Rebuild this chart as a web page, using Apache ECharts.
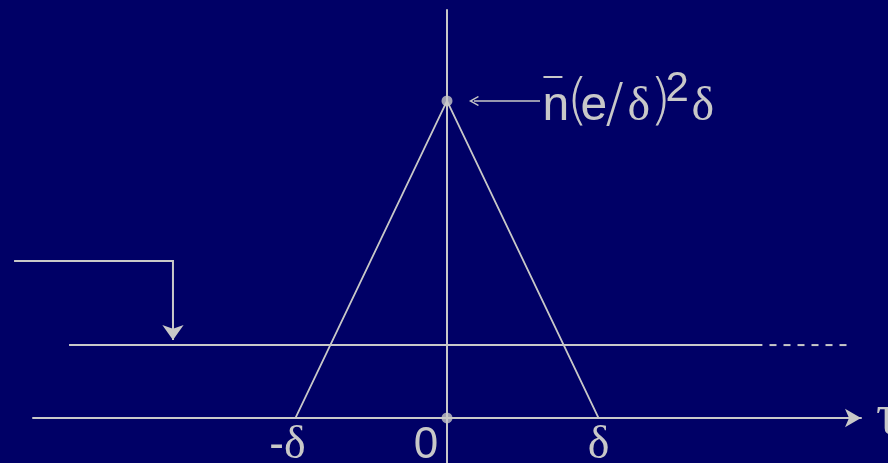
<!DOCTYPE html>
<html>
<head>
<meta charset="utf-8">
<script src="https://cdn.jsdelivr.net/npm/echarts@6/dist/echarts.min.js"></script>
<style>
  html, body { margin: 0; padding: 0; background: #000066; }
  #chart { width: 888px; height: 463px; }
</style>
</head>
<body>
<div id="chart"></div>
<script>
// Horizontal unit: δ.  Vertical unit: the peak height n̄(e/δ)²δ.
const tickValues = [-1, 0, 1];
const tickLabels = ['-δ', '0', 'δ'];
const triangle = [[-1, 0], [0, 1], [1, 0]];
const markedPoints = [[0, 1], [0, 0]];
const levelSolid = [[-2.495, 0.23], [2.082, 0.23]];
const levelDashed = [[2.129, 0.23], [2.640, 0.23]];
const pointerPath = [[-2.858, 0.495], [-1.809, 0.495], [-1.809, 0.30]];
const pointerDrop = [[-1.809, 0.31], [-1.809, 0.246]];
const peakPointer = [[0.614, 1], [0.178, 1]];
const peakLabelAnchor = [0.63, 1];

const FG = '#c8c8c8';
const SANS = '"Liberation Sans", Arial, sans-serif';
const SERIF = '"Liberation Serif", "Times New Roman", serif';
const THIN = '"DejaVu Sans ExtraLight", "DejaVu Sans", sans-serif';

const chart = echarts.init(document.getElementById('chart'), null, { renderer: 'canvas' });

function plainLine(data, width, type) {
  return {
    type: 'line', data: data, symbol: 'none', silent: true, clip: false,
    animation: false,
    lineStyle: { color: FG, width: width, type: type || 'solid' }
  };
}

function arrowLine(pair, symbol, size, width) {
  return {
    type: 'line', data: [], symbol: 'none', silent: true, clip: false,
    animation: false,
    markLine: {
      silent: true, animation: false,
      symbol: ['none', symbol], symbolSize: size,
      label: { show: false },
      lineStyle: { color: FG, width: width, type: 'solid' },
      itemStyle: { color: FG },
      data: [[{ coord: pair[0] }, { coord: pair[1] }]]
    }
  };
}

chart.setOption({
  backgroundColor: '#000066',
  animation: false,
  grid: { left: 33, right: 27, top: 10, bottom: 0, outerBoundsMode: 'none', containLabel: false },
  xAxis: {
    type: 'value', min: -2.733, max: 2.733,
    name: 'τ', nameLocation: 'end', nameGap: 15,
    nameTextStyle: { fontFamily: SERIF, fontSize: 56, color: FG, padding: [16, 0, 0, 0] },
    axisLine: {
      show: true, onZero: true,
      symbol: ['none', 'arrow'], symbolSize: [14, 16],
      lineStyle: { color: FG, width: 2 }
    },
    axisTick: { show: false },
    splitLine: { show: false },
    axisLabel: { show: false }
  },
  yAxis: {
    type: 'value', min: -0.142, max: 1.287,
    axisLine: { show: true, onZero: true, lineStyle: { color: FG, width: 2 } },
    axisTick: { show: false },
    axisLabel: { show: false },
    splitLine: { show: false }
  },
  series: [
    plainLine(triangle, 1.8),
    plainLine(levelSolid, 2),
    plainLine(levelDashed, 2, [7, 7]),
    arrowLine(pointerDrop, 'arrow', [16, 15], 2),
    arrowLine(peakPointer, 'path://M5,0L10,9L9,10L5,3L1,10L0,9Z', [10, 10], 1.5),
    {
      type: 'scatter', data: markedPoints, symbol: 'circle', symbolSize: 11,
      silent: true, animation: false, clip: false,
      itemStyle: { color: FG }
    }
  ]
});

const toPx = function (p) { return chart.convertToPixel({ gridIndex: 0 }, p); };
const graphics = [];

// Bent pointer coming in from the left edge
graphics.push({
  type: 'polyline', silent: true,
  shape: { points: pointerPath.map(toPx) },
  style: { stroke: FG, lineWidth: 2, fill: null }
});

// Tick labels under the horizontal axis
const tickShift = [-8, -21, 0];
tickValues.forEach(function (v, i) {
  const p = toPx([v, 0]);
  const label = tickLabels[i];
  const rich = {
    m: { fontFamily: SANS, fontSize: 44, fill: FG },
    z: { fontFamily: SANS, fontSize: 44, fill: FG },
    d: { fontFamily: SERIF, fontSize: 46, fill: FG }
  };
  let txt;
  if (label === '-δ') txt = '{m|-}{d|δ}';
  else if (label === '0') txt = '{z|0}';
  else txt = '{d|' + label + '}';
  graphics.push({
    type: 'text', silent: true, x: p[0] + tickShift[i], y: p[1] + 28,
    style: { text: txt, rich: rich, fill: FG, align: 'center', verticalAlign: 'middle' }
  });
});

// Peak expression n̄(e/δ)²δ, laid out piece by piece from the anchor point
const a = toPx(peakLabelAnchor);
const pieces = [
  { t: 'n', dx: 0, dy: 21, f: SANS, s: 48, w: 'normal' },
  { t: '(', dx: 24, dy: 20, f: THIN, s: 56, w: 200 },
  { t: 'e', dx: 38, dy: 21, f: SANS, s: 48, w: 'normal' },
  { t: '/', dx: 63, dy: 23, f: THIN, s: 54, w: 200 },
  { t: 'δ', dx: 85, dy: 21, f: SERIF, s: 48, w: 'normal' },
  { t: ')', dx: 107, dy: 20, f: THIN, s: 56, w: 200 },
  { t: '2', dx: 123, dy: 1, f: SANS, s: 42, w: 'normal' },
  { t: 'δ', dx: 149, dy: 21, f: SERIF, s: 48, w: 'normal' }
];
const children = pieces.map(function (p) {
  return {
    type: 'text', x: p.dx, y: p.dy - 0.31 * p.s, silent: true,
    style: {
      text: p.t, fill: FG, fontFamily: p.f, fontSize: p.s, fontWeight: p.w,
      align: 'left', verticalAlign: 'middle'
    }
  };
});
children.push({
  type: 'line', silent: true,
  shape: { x1: 1, y1: -24, x2: 20, y2: -24 },
  style: { stroke: FG, lineWidth: 2 }
});
graphics.push({ type: 'group', x: a[0], y: a[1], children: children });

chart.setOption({ graphic: graphics });
</script>
</body>
</html>
